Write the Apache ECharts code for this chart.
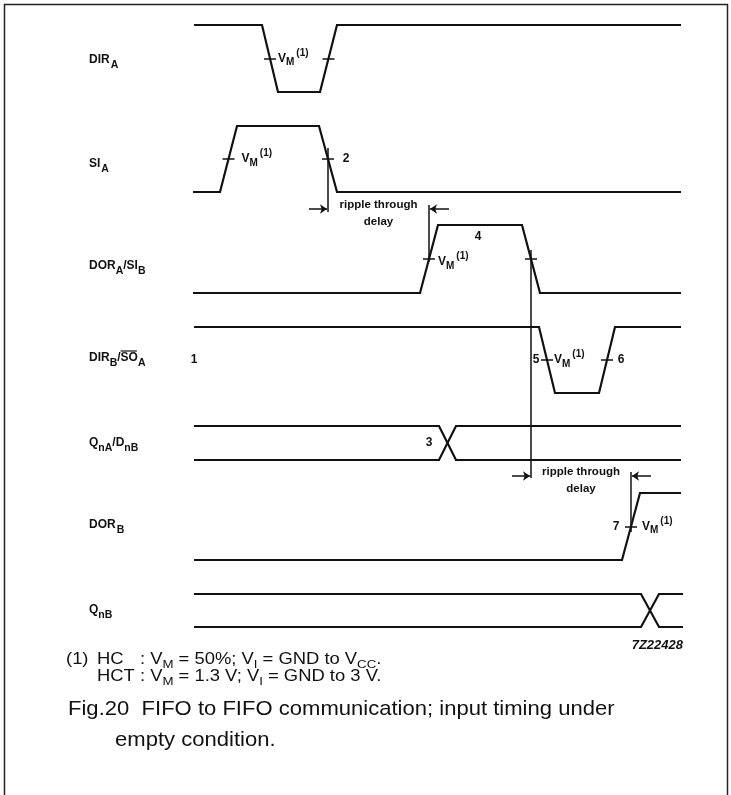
<!DOCTYPE html>
<html><head><meta charset="utf-8">
<script src="https://cdn.jsdelivr.net/npm/echarts@6/dist/echarts.min.js"></script>
<style>html,body{margin:0;padding:0;background:#fff}#c{width:731px;height:795px}</style>
</head><body><div id="c"></div>
<script>
// ---------- DATA: transition times (x) and logic levels (1 = high, 0 = low) ----------
const dirA_t = [194, 262, 278, 320, 337, 681];
const dirA_v = [1, 1, 0, 0, 1, 1];
const siA_t  = [193, 220, 237, 319, 337, 681];
const siA_v  = [0, 0, 1, 1, 0, 0];
const dorA_t = [193, 420, 438, 522, 540, 681];
const dorA_v = [0, 0, 1, 1, 0, 0];
const dirB_t = [194, 539, 555, 599, 615, 681];
const dirB_v = [1, 1, 0, 0, 1, 1];
const dorB_t = [194, 622, 640, 681];
const dorB_v = [0, 0, 1, 1];
// bus signals: [start, end] and data-change crossing [from, to]
const qA_span = [194, 681];
const qA_cross = [439, 456];
const qB_span = [194, 683];
const qB_cross = [641, 659];
// signal names (text parts: t = text, k = sub/sup, ovl = overline)
const nameDirA = [{t:'DIR'},{t:'A',k:'sub',pre:1}];
const nameSiA  = [{t:'SI'},{t:'A',k:'sub',pre:1}];
const nameDorA = [{t:'DOR'},{t:'A',k:'sub'},{t:'/SI'},{t:'B',k:'sub'}];
const nameDirB = [{t:'DIR'},{t:'B',k:'sub'},{t:'/'},{t:'SO',ovl:true},{t:'A',k:'sub'}];
const nameQA   = [{t:'Q'},{t:'nA',k:'sub'},{t:'/D'},{t:'nB',k:'sub'}];
const nameDorB = [{t:'DOR'},{t:'B',k:'sub',pre:1}];
const nameQB   = [{t:'Q'},{t:'nB',k:'sub'}];
const vmLabel  = [{t:'V'},{t:'M',k:'sub'},{t:'(1)',k:'sup',pre:2}];
const rippleText = ['ripple through', 'delay'];
const figCode = '7Z22428';
const footLine1 = [{t:'V'},{t:'M',k:'sub'},{t:' = 50%; V'},{t:'I',k:'sub'},{t:' = GND to V'},{t:'CC',k:'sub'},{t:'.'}];
const footLine2 = [{t:'V'},{t:'M',k:'sub'},{t:' = 1.3 V; V'},{t:'I',k:'sub'},{t:' = GND to 3 V.'}];
const captionLines = ['Fig.20  FIFO to FIFO communication; input timing under', 'empty condition.'];

// ---------- LAYOUT ----------
const rows = {
  dirA: {high: 25, low: 92, labelY: 60},
  siA:  {high: 126, low: 192, labelY: 164},
  dorA: {high: 225, low: 293, labelY: 266},
  dirB: {high: 327, low: 393, labelY: 358},
  dorB: {high: 493, low: 560, labelY: 525}
};
const busRows = { qA: {top: 426, bot: 460, labelY: 443}, qB: {top: 594, bot: 627, labelY: 610} };
const LABEL_X = 89;
const TXT = '#111';
const FAM = "'Liberation Sans', Arial, sans-serif";
const font = (size, weight, style) => `${style || 'normal'} ${weight || 'bold'} ${size}px ${FAM}`;

function wave(t, v, r) { return t.map((x, i) => [x, v[i] ? r.high : r.low]); }
function edgeMids(t, v) { const m = []; for (let i = 1; i < t.length; i++) if (v[i] !== v[i-1]) m.push((t[i-1] + t[i]) / 2); return m; }
function busLines(span, cross, r) {
  return [
    [[span[0], r.top], [cross[0], r.top], [cross[1], r.bot], [span[1], r.bot]],
    [[span[0], r.bot], [cross[0], r.bot], [cross[1], r.top], [span[1], r.top]]
  ];
}

const eDirA = edgeMids(dirA_t, dirA_v), eSiA = edgeMids(siA_t, siA_v), eDorA = edgeMids(dorA_t, dorA_v),
      eDirB = edgeMids(dirB_t, dirB_v), eDorB = edgeMids(dorB_t, dorB_v);
const mid = r => (r.high + r.low) / 2;

const waveData = [
  wave(dirA_t, dirA_v, rows.dirA), wave(siA_t, siA_v, rows.siA), wave(dorA_t, dorA_v, rows.dorA),
  wave(dirB_t, dirB_v, rows.dirB), wave(dorB_t, dorB_v, rows.dorB),
  ...busLines(qA_span, qA_cross, busRows.qA), ...busLines(qB_span, qB_cross, busRows.qB)
].map(c => ({coords: c}));

const tickData = [];
[[eDirA, rows.dirA], [eSiA, rows.siA], [eDorA, rows.dorA], [eDirB, rows.dirB], [eDorB, rows.dorB]].forEach(([ms, r]) => {
  ms.forEach(x => tickData.push({coords: [[x - 6, mid(r)], [x + 6, mid(r)]]}));
});
// vertical reference lines through edges
const markers = [
  {x: eSiA[1], y1: 148, y2: 212},
  {x: eDorA[0], y1: 205, y2: 262},
  {x: eDorA[1], y1: 250, y2: 478},
  {x: eDorB[0], y1: 472, y2: 532}
];
markers.forEach(m => tickData.push({coords: [[m.x, m.y1], [m.x, m.y2]]}));
const rippleY = [209, 476];
const arrowData = [
  {coords: [[markers[0].x - 19, rippleY[0]], [markers[0].x - 1, rippleY[0]]]},
  {coords: [[markers[1].x + 20, rippleY[0]], [markers[1].x + 1, rippleY[0]]]},
  {coords: [[markers[2].x - 19, rippleY[1]], [markers[2].x - 1, rippleY[1]]]},
  {coords: [[markers[3].x + 20, rippleY[1]], [markers[3].x + 1, rippleY[1]]]}
];

const chart = echarts.init(document.getElementById('c'));
chart.setOption({
  animation: false,
  backgroundColor: '#fff',
  grid: {left: 0, right: 0, top: 0, bottom: 0},
  xAxis: {type: 'value', min: 0, max: 731, show: false},
  yAxis: {type: 'value', min: 0, max: 795, inverse: true, show: false},
  series: [
    {type: 'lines', coordinateSystem: 'cartesian2d', polyline: true, silent: true,
     lineStyle: {color: TXT, width: 2.2, opacity: 1}, data: waveData},
    {type: 'lines', coordinateSystem: 'cartesian2d', silent: true,
     lineStyle: {color: TXT, width: 1.5, opacity: 1}, data: tickData},
    {type: 'lines', coordinateSystem: 'cartesian2d', silent: true, symbol: ['none', 'arrow'], symbolSize: 7,
     lineStyle: {color: TXT, width: 1.5, opacity: 1}, data: arrowData}
  ]
});

// ---------- TEXT ----------
const mctx = document.createElement('canvas').getContext('2d');
function measure(t, f) { mctx.font = f; return mctx.measureText(t).width; }
function px(x, y) { return chart.convertToPixel({gridIndex: 0}, [x, y]); }
function richLabel(x, y, parts, o) {
  const els = [];
  const sx = o.scaleX || 1;
  const fonts = parts.map(p => font(p.k === 'sub' ? o.subSize : p.k === 'sup' ? o.supSize : o.size, o.weight, o.style));
  const widths = parts.map((p, i) => (measure(p.t, fonts[i]) + (p.pre || 0)) * sx);
  const total = widths.reduce((a, b) => a + b, 0);
  let cx = o.align === 'right' ? x - total : o.align === 'center' ? x - total / 2 : x;
  parts.forEach((p, i) => {
    const dy = p.k === 'sub' ? o.subDy : p.k === 'sup' ? o.supDy : 0;
    const tx = cx + (p.pre || 0) * sx;
    els.push({type: 'text', x: tx, y: y + dy, scaleX: sx, silent: true,
      style: {text: p.t, font: fonts[i], fill: TXT, textAlign: 'left', textVerticalAlign: 'middle', align: 'left', verticalAlign: 'middle'}});
    if (p.ovl) {
      const oy = y - o.size * 0.5 - 1;
      els.push({type: 'line', silent: true, shape: {x1: tx, y1: oy, x2: cx + widths[i] - 1, y2: oy}, style: {stroke: TXT, lineWidth: 1.2}});
    }
    cx += widths[i];
  });
  return {els, total};
}
const nameStyle = {size: 12, subSize: 10.5, subDy: 5, supSize: 9, supDy: -5, weight: 'bold'};
const vmStyle = {size: 12, subSize: 10, subDy: 4, supSize: 10, supDy: -5.5, weight: 'bold'};
const numStyle = {size: 12, weight: 'bold'};
const footStyle = {size: 16, subSize: 11.5, subDy: 4.5, weight: 'normal', scaleX: 1.15};

const g = [];
function add(x, y, parts, o) { const p = px(x, y); const r = richLabel(p[0], p[1], parts, o); g.push(...r.els); return r.total; }
function num(x, y, t, align) { add(x, y, [{t}], Object.assign({align: align || 'center'}, numStyle)); }

add(LABEL_X, rows.dirA.labelY, nameDirA, nameStyle);
add(LABEL_X, rows.siA.labelY, nameSiA, nameStyle);
add(LABEL_X, rows.dorA.labelY, nameDorA, nameStyle);
add(LABEL_X, rows.dirB.labelY, nameDirB, nameStyle);
add(LABEL_X, busRows.qA.labelY, nameQA, nameStyle);
add(LABEL_X, rows.dorB.labelY, nameDorB, nameStyle);
add(LABEL_X, busRows.qB.labelY, nameQB, nameStyle);

// V_M labels next to edge crossings
add(eDirA[0] + 8, mid(rows.dirA), vmLabel, vmStyle);
add(eSiA[0] + 13, mid(rows.siA), vmLabel, vmStyle);
add(eDorA[0] + 9, mid(rows.dorA) + 3, vmLabel, vmStyle);
add(eDirB[0] + 7, mid(rows.dirB), vmLabel, vmStyle);
add(eDorB[0] + 11, mid(rows.dorB), vmLabel, vmStyle);

// reference numbers
num(eSiA[1] + 18, mid(rows.siA), '2');
num(478, 237, '4');
num(eDirB[0] - 11, mid(rows.dirB), '5');
num(eDirB[1] + 14, mid(rows.dirB), '6');
num(194, mid(rows.dirB), '1');
num(qA_cross[0] - 10, busRows.qA.labelY, '3');
num(eDorB[0] - 15, mid(rows.dorB), '7');

// ripple through delay texts
[[markers[0], markers[1], rippleY[0]], [markers[2], markers[3], rippleY[1]]].forEach(([a, b, y]) => {
  const cx = (a.x + b.x) / 2;
  add(cx, y - 4, [{t: rippleText[0]}], {size: 11.5, weight: 'bold', align: 'center'});
  add(cx, y + 13, [{t: rippleText[1]}], {size: 11.5, weight: 'bold', align: 'center'});
});

// figure code
add(683, 645, [{t: figCode}], {size: 13, weight: 'bold', style: 'italic', align: 'right'});

// footnote
const FOOT_X = 66, FOOT_X2 = 97;
add(FOOT_X, 660, [{t: '(1)'}], footStyle);
add(FOOT_X2, 660, [{t: 'HC'}], footStyle);
const hctW = add(FOOT_X2, 677, [{t: 'HCT '}], footStyle);
add(FOOT_X2 + hctW, 660, [{t: ': '}, ...footLine1], footStyle);
add(FOOT_X2 + hctW, 677, [{t: ': '}, ...footLine2], footStyle);

// caption
const capStyle = {size: 21, weight: 'normal', scaleX: 1.05};
add(68, 709, [{t: captionLines[0]}], capStyle);
add(115, 740, [{t: captionLines[1]}], capStyle);

// frame
g.push({type: 'rect', silent: true, shape: {x: 4.5, y: 4.5, width: 723, height: 800}, style: {fill: 'none', stroke: '#222', lineWidth: 1.5}});

chart.setOption({graphic: {elements: g}});
</script>
</body></html>
